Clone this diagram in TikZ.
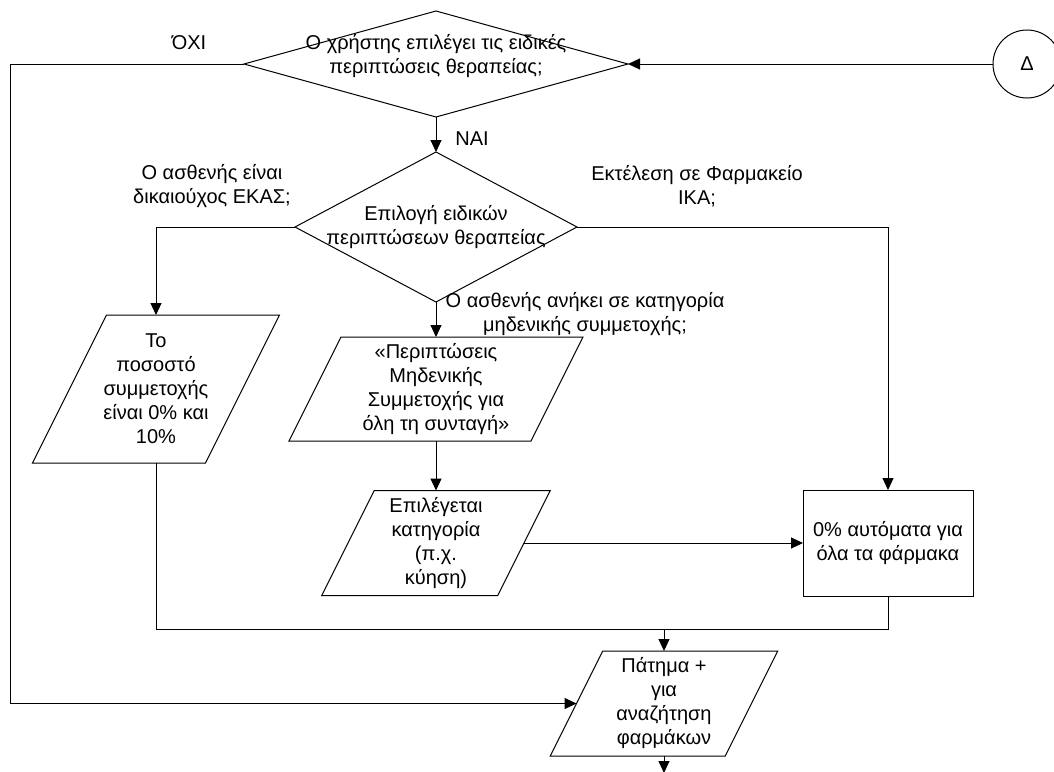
\documentclass[tikz,border=0pt]{standalone}
\usepackage{fontspec}
\setmainfont{Liberation Sans}
\usetikzlibrary{arrows.meta,shapes.geometric,calc}
\begin{document}
\begin{tikzpicture}[x=1pt,y=-1pt,
  every node/.style={font=\fontsize{20}{24}\selectfont, align=center, inner sep=0pt, outer sep=0pt},
  line/.style={line width=1pt, draw=black},
  arr/.style={line, -{Triangle[length=12pt,width=11pt]}},
  dia/.style={diamond, line},
  pbox/.style={rectangle},
  rbox/.style={rectangle, line},
  term/.style={circle, line, minimum size=68pt},
  lbl/.style={}]
\useasboundingbox (0,0) rectangle (1054,771);
\clip (0,0) rectangle (1054,771);

% decisions
\node[dia, minimum width=384pt, minimum height=106pt] (d1) at (436,64) {};
\node at (436,56) {Ο χρήστης επιλέγει τις ειδικές\\περιπτώσεις θεραπείας;};
\node[dia, minimum width=282pt, minimum height=150pt] (d2) at (436,227) {};
\node at (436,227) {Επιλογή ειδικών\\περιπτώσεων θεραπείας};

% terminal
\node[term] (c) at (1027,64) {Δ};

% parallelogram bodies (mid-line rectangles)
\node[pbox, minimum width=173pt, minimum height=148pt] (p1) at (156,389) {Το\\ποσοστό\\συμμετοχής\\είναι 0\% και\\10\%};
\node[pbox, minimum width=242pt, minimum height=104pt] (p2) at (436,389) {«Περιπτώσεις\\Μηδενικής\\Συμμετοχής για\\όλη τη συνταγή»};
\node[pbox, minimum width=176pt, minimum height=105pt] (p3) at (436,543) {Επιλέγεται\\κατηγορία\\(π.χ.\\κύηση)};
\node[pbox, minimum width=175pt, minimum height=105pt] (p4) at (664,703.5) {Πάτημα +\\για\\αναζήτηση\\φαρμάκων};

\foreach \q in {p1,p2,p3,p4}{
  \draw[line] let \p1=(\q.north west), \p2=(\q.south east), \n1={(\y1-\y2)/4} in
    (\x1+\n1,\y1) -- (\x2+\n1,\y1) -- (\x2-\n1,\y2) -- (\x1-\n1,\y2) -- cycle;
}

% process box
\node[rbox, minimum width=170pt, minimum height=106pt] (r) at (888,543) {0\% αυτόματα για\\όλα τα φάρμακα};

% labels
\node[lbl] (lno) at (189,43) {ΌΧΙ};
\node[lbl] (lyes) at (472,139) {ΝΑΙ};
\node[lbl] (lekas) at (212,186) {Ο ασθενής είναι\\δικαιούχος ΕΚΑΣ;};
\node[lbl] (lika) at (697,186) {Εκτέλεση σε Φαρμακείο\\ΙΚΑ;};
\node[lbl] (lzero) at (585,314) {Ο ασθενής ανήκει σε κατηγορία\\μηδενικής συμμετοχής;};

% helper coordinates
\coordinate (lc) at (10,64);
\coordinate (j) at (664,629);
\coordinate (jl) at (156,629);
\coordinate (jr) at (888,629);
\coordinate (out) at (664,773);

% connectors
\draw[arr] (c.west) -- (d1.east);
\draw[arr] (d1.west) -- (lc) |- (p4.west);
\draw[arr] (d1.south) -- (d2.north);
\draw[arr] (d2.west) -| (p1.north);
\draw[arr] (d2.east) -| (r.north);
\draw[arr] (d2.south) -- (p2.north);
\draw[arr] (p2.south) -- (p3.north);
\draw[arr] (p3.east) -- (r.west);
\draw[line] (p1.south) -- (jl) -- (jr) -- (r.south);
\draw[arr] (j) -- (p4.north);
\draw[arr] (p4.south) -- (out);
\end{tikzpicture}
\end{document}
